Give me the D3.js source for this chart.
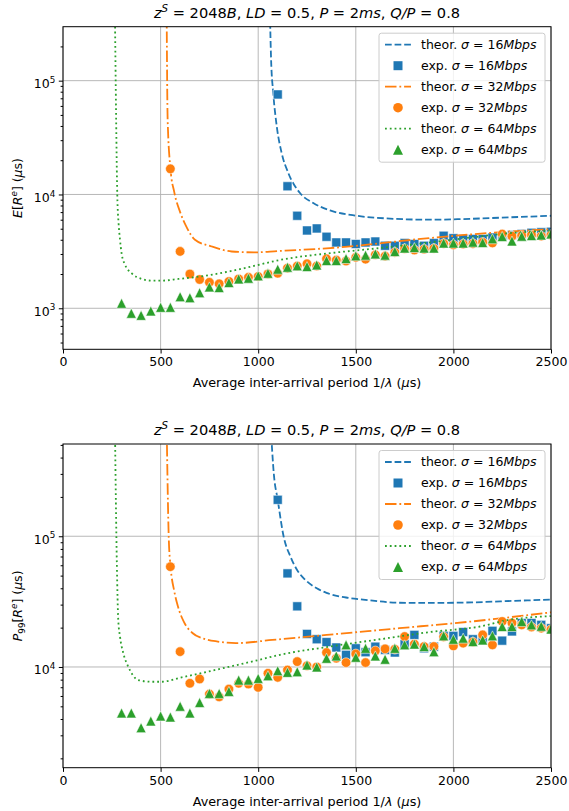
<!DOCTYPE html>
<html>
<head>
<meta charset="utf-8">
<script src="https://cdn.jsdelivr.net/npm/d3@7"></script>
<style>
	body { margin: 0; background: #fff; }
	text { font-family: "DejaVu Sans", sans-serif; fill: #000; }
</style>
</head>
<body>
<div id="chart"></div>
<script>
// inter-arrival periods of the experiments (us)
const periods = [300, 350, 400, 450, 500, 550, 600, 650, 700, 750, 800, 850, 900, 950,
	1000, 1050, 1100, 1150, 1200, 1250, 1300, 1350, 1400, 1450, 1500, 1550, 1600, 1650,
	1700, 1750, 1800, 1850, 1900, 1950, 2000, 2050, 2100, 2150, 2200, 2250, 2300, 2350,
	2400, 2450, 2500];
const xTicks = [0, 500, 1000, 1500, 2000, 2500];

// E[R^e], experiments
const exp16E = [null, null, null, null, null, null, null, null, null, null, null, null, null, null, null, null,
	75700, 11800, 6500, 4830, 5030, 4250, 3790, 3790, 3670, 3790, 3860, 3540, 3540, 3740, 3670,
	3540, 3740, 4340, 4130, 4070, 4070, 4070, 4190, 4280, 4400, 4500, 4600, 4650, 4700];
const exp32E = [null, null, null, null, null,
	16800, 3160, 2000, 1790, 1690, 1640, 1720, 1810, 1870, 1900, 2000, 2030, 2250, 2350, 2460,
	2350, 2720, 2650, 2600, 2800, 2700, 2950, 2870, 3100, 3330, 3250, 3300, 3350, 3700, 3600,
	3660, 3700, 3800, 3750, 4490, 4300, 4350, 4400, 4300, 4400];
const exp64E = [1107, 904, 867, 947, 1020, 1020, 1265, 1240, 1372, 1541, 1520, 1682, 1812, 1838,
	1927, 2031, 2207, 2295, 2360, 2325, 2404, 2624, 2624, 2735, 2890, 2930, 3006, 2930, 3155,
	3380, 3420, 3380, 3380, 3740, 3740, 3740, 3810, 3780, 4080, 4276, 3900, 4300, 4350, 4400, 4500];

// E[R^e], theory
const th16EX = [1060, 1066, 1077, 1095, 1120, 1154, 1214, 1282, 1368, 1504, 1658, 1880, 2051, 2290, 2500];
const th16E  = [400000, 154000, 78300, 39800, 23200, 15460, 10300, 8410, 7240, 6500, 6160, 6000, 6080, 6300, 6500];
const th32EX = [531, 536, 551, 570, 600, 630, 676, 762, 864, 979, 1100, 1368, 1880, 2290, 2500];
const th32E  = [400000, 46000, 16500, 10500, 7000, 5300, 4000, 3490, 3155, 3100, 3180, 3380, 4140, 4730, 4950];
const th64EX = [266, 272, 278, 285, 292, 300, 318, 352, 403, 454, 505, 591, 727, 847, 967, 1112, 1368, 1624, 1880, 2136, 2290, 2500];
const th64E  = [400000, 50000, 10000, 5500, 4000, 3050, 2410, 2030, 1810, 1750, 1750, 1810, 1930, 2100, 2330, 2660, 3050, 3380, 3790, 4280, 4580, 4800];

// P99[R^e], experiments
const exp16P = [null, null, null, null, null, null, null, null, null, null, null, null, null, null, null, null,
	190000, 52000, 29100, 17900, 16300, 15500, 14100, 12400, 13900, 12970, 14300, 13500, 12900,
	14960, 17600, 13900, 14300, 17300, 17300, 18500, 16300, 16300, 18900, 15900, 18700, 21700,
	21700, 21000, 19800];
const exp32P = [null, null, null, null, null,
	58500, 13100, 7500, 8090, 6200, 5910, 6770, 7500, 7400, 6980, 8950, 8330, 9480, 10990, 10200,
	10000, 12900, 11660, 10800, 12590, 10800, 13280, 13750, 13680, 17100, 14960, 14330, 14330,
	17000, 14500, 15220, 15500, 17600, 14770, 22300, 21700, 21000, 20200, 19800, 19300];
const exp64P = [4450, 4450, 3435, 3860, 4216, 4140, 5010, 4450, 5350, 6280, 6280, 6500, 7940, 7940,
	8180, 8570, 9370, 9100, 9200, 10360, 10000, 11660, 12150, 14770, 11870, 13900, 12150, 11460,
	13900, 14770, 14960, 14330, 13100, 17300, 16300, 16620, 15650, 16100, 17300, 20400, 20400,
	22300, 21000, 20500, 19500];

// P99[R^e], theory
const th16PX = [1064, 1080, 1100, 1130, 1165, 1200, 1240, 1300, 1350, 1450, 1537, 1723, 1909, 2095, 2300, 2500];
const th16P  = [700000, 300000, 190000, 100000, 70000, 55000, 46600, 40000, 36900, 34000, 32800, 31000, 30900, 31200, 32000, 32800];
const th32PX = [531, 542, 551, 570, 589, 620, 663, 720, 793, 886, 1072, 1351, 1723, 2095, 2500];
const th32P  = [700000, 95000, 59000, 38000, 29000, 22000, 18200, 16500, 15650, 15220, 16100, 17600, 19800, 22300, 26200];
const th64PX = [266, 276, 283, 292, 309, 335, 386, 454, 505, 608, 727, 847, 967, 1112, 1368, 1624, 1880, 2136, 2290, 2500];
const th64P  = [700000, 60000, 23000, 17100, 12740, 10000, 7940, 7710, 7710, 8330, 9100, 10000, 10990, 12400, 14330, 16300, 18500, 20400, 23000, 24500];

const C_BLUE = '#1f77b4', C_ORANGE = '#ff7f0e', C_GREEN = '#2ca02c';
const DASHED = '6.7,2.9', DASHDOT = '11.5,2.9,1.8,2.9', DOTTED = '1.8,3';

const titleParts = [['z', 'i'], ['S', 'supi'], [' = 2048', 'r'], ['B', 'i'], [', ', 'r'], ['LD', 'i'],
	[' = 0.5, ', 'r'], ['P', 'i'], [' = 2', 'r'], ['ms', 'i'], [', ', 'r'], ['Q/P', 'i'], [' = 0.8', 'r']];
const xLabelParts = [['Average inter-arrival period 1/', 'r'], ['λ', 'i'], [' (', 'r'], ['μ', 'i'], ['s)', 'r']];

function legendParts(kind, rate) {
	return [[kind + ' ', 'r'], ['σ', 'i'], [' = ' + rate, 'r'], ['Mbps', 'i']];
}

function series(th16X, th16, e16, th32X, th32, e32, th64X, th64, e64) {
	return [
		{ kind: 'line', color: C_BLUE, dash: DASHED, xs: th16X, ys: th16, label: legendParts('theor.', 16) },
		{ kind: 'square', color: C_BLUE, xs: periods, ys: e16, label: legendParts('exp.', 16) },
		{ kind: 'line', color: C_ORANGE, dash: DASHDOT, xs: th32X, ys: th32, label: legendParts('theor.', 32) },
		{ kind: 'circle', color: C_ORANGE, xs: periods, ys: e32, label: legendParts('exp.', 32) },
		{ kind: 'line', color: C_GREEN, dash: DOTTED, xs: th64X, ys: th64, label: legendParts('theor.', 64) },
		{ kind: 'triangle', color: C_GREEN, xs: periods, ys: e64, label: legendParts('exp.', 64) }
	];
}

const panels = [
	{ id: 'e', top: 26.7, height: 322.6, yDomain: [436, 298000],
		yLabel: [['E', 'i'], ['[', 'r'], ['R', 'i'], ['e', 'supi'], ['] (', 'r'], ['μ', 'i'], ['s)', 'r']],
		series: series(th16EX, th16E, exp16E, th32EX, th32E, exp32E, th64EX, th64E, exp64E) },
	{ id: 'p', top: 444, height: 323.7, yDomain: [1696, 508000],
		yLabel: [['P', 'i'], ['99', 'sub'], ['[', 'r'], ['R', 'i'], ['e', 'supi'], ['] (', 'r'], ['μ', 'i'], ['s)', 'r']],
		series: series(th16PX, th16P, exp16P, th32PX, th32P, exp32P, th64PX, th64P, exp64P) }
];

const marginLeft = 63, plotW = 488;

let svg = d3.select('#chart').append('svg')
	.attr('width', 569)
	.attr('height', 811);

function mathText(sel, parts, size) {
	let shift = 0;
	parts.forEach(([s, k]) => {
		let t = sel.append('tspan').text(s);
		let target = 0;
		if (k === 'i' || k === 'supi') t.attr('font-style', 'italic');
		if (k === 'sup' || k === 'supi') { t.attr('font-size', size * 0.7); target = -size * 0.42; }
		if (k === 'sub') { t.attr('font-size', size * 0.7); target = size * 0.22; }
		if (target !== shift) { t.attr('dy', target - shift); shift = target; }
	});
}

function markerPath(kind) {
	if (kind === 'square') return 'M-4.5,-4.5H4.5V4.5H-4.5Z';
	if (kind === 'circle') return d3.symbol(d3.symbolCircle, Math.PI * 4.8 * 4.8)();
	return 'M0,-5L5,5L-5,5Z';
}

function drawPanel(p) {
	let g = svg.append('g')
		.attr('transform', 'translate(' + marginLeft + ',' + p.top + ')');

	let x = d3.scaleLinear().domain([0, 2500]).range([0, plotW]);
	let y = d3.scaleLog().domain(p.yDomain).range([p.height, 0]);

	let decades = y.ticks().filter((d) => Math.abs(Math.log10(d) - Math.round(Math.log10(d))) < 1e-9);
	let minors = y.ticks().filter((d) => decades.indexOf(d) < 0);

	g.append('clipPath').attr('id', 'clip-' + p.id)
		.append('rect').attr('width', plotW).attr('height', p.height);

	// grid
	let grid = g.append('g').attr('stroke', '#b0b0b0').attr('stroke-width', 0.9);
	grid.selectAll('.gx').data(xTicks).enter().append('line')
		.attr('x1', (d) => x(d)).attr('x2', (d) => x(d))
		.attr('y1', 0).attr('y2', p.height);
	grid.selectAll('.gy').data(decades).enter().append('line')
		.attr('x1', 0).attr('x2', plotW)
		.attr('y1', (d) => y(d)).attr('y2', (d) => y(d));

	// data
	let plot = g.append('g').attr('clip-path', 'url(#clip-' + p.id + ')');
	let line = d3.line()
		.x((d) => x(d[0]))
		.y((d) => y(d[1]))
		.curve(d3.curveMonotoneX);

	p.series.forEach((s) => {
		if (s.kind === 'line') {
			plot.append('path')
				.datum(d3.zip(s.xs, s.ys))
				.attr('d', line)
				.attr('fill', 'none')
				.attr('stroke', s.color)
				.attr('stroke-width', 1.8)
				.attr('stroke-dasharray', s.dash);
		} else {
			let pts = d3.zip(s.xs, s.ys).filter((d) => d[1] != null);
			plot.append('g').selectAll('path').data(pts).enter().append('path')
				.attr('d', markerPath(s.kind))
				.attr('transform', (d) => 'translate(' + x(d[0]) + ',' + y(d[1]) + ')')
				.attr('fill', s.color)
				.attr('stroke', '#ffffff')
				.attr('stroke-opacity', 0.55)
				.attr('stroke-width', 1);
		}
	});

	// axes
	let ax = g.append('g')
		.attr('transform', 'translate(0,' + p.height + ')')
		.call(d3.axisBottom(x).tickValues(xTicks).tickFormat(d3.format('d')).tickSize(4.2).tickPadding(4));
	ax.select('.domain').remove();
	ax.selectAll('text').attr('font-size', 12.5).attr('font-family', '"DejaVu Sans", sans-serif');

	let ayMinor = g.append('g').call(d3.axisLeft(y).tickValues(minors).tickSize(2.4).tickFormat(''));
	ayMinor.select('.domain').remove();

	let ay = g.append('g').call(d3.axisLeft(y).tickValues(decades).tickSize(4.2).tickPadding(3.5).tickFormat(''));
	ay.select('.domain').remove();
	ay.selectAll('.tick text').each(function (d) {
		let t = d3.select(this).attr('font-size', 12.5).attr('dy', '0.55em')
			.attr('font-family', '"DejaVu Sans", sans-serif');
		mathText(t, [['10', 'r'], [String(Math.round(Math.log10(d))), 'sup']], 12.5);
	});

	g.append('rect')
		.attr('width', plotW).attr('height', p.height)
		.attr('fill', 'none').attr('stroke', '#000').attr('stroke-width', 1);

	// labels
	let title = g.append('text')
		.attr('x', plotW / 2).attr('y', -9)
		.attr('text-anchor', 'middle').attr('font-size', 14.6);
	mathText(title, titleParts, 14.6);

	let xl = g.append('text')
		.attr('x', plotW / 2).attr('y', p.height + 38)
		.attr('text-anchor', 'middle').attr('font-size', 12.8);
	mathText(xl, xLabelParts, 12.8);

	let yl = g.append('text')
		.attr('transform', 'translate(' + (-41) + ',' + (p.height / 2) + ') rotate(-90)')
		.attr('text-anchor', 'middle').attr('font-size', 12.5);
	mathText(yl, p.yLabel, 12.5);

	// legend
	let lg = g.append('g').attr('transform', 'translate(316,6.5)');
	lg.append('rect')
		.attr('width', 166).attr('height', 129).attr('rx', 2.5)
		.attr('fill', '#fff').attr('fill-opacity', 0.8)
		.attr('stroke', '#cccccc').attr('stroke-width', 1);

	p.series.forEach((s, i) => {
		let cy = 11.5 + i * 21;
		if (s.kind === 'line') {
			lg.append('line')
				.attr('x1', 6).attr('x2', 32).attr('y1', cy).attr('y2', cy)
				.attr('stroke', s.color).attr('stroke-width', 1.8)
				.attr('stroke-dasharray', s.dash);
		} else {
			lg.append('path')
				.attr('d', markerPath(s.kind))
				.attr('transform', 'translate(19,' + cy + ')')
				.attr('fill', s.color);
		}
		let t = lg.append('text')
			.attr('x', 42).attr('y', cy + 4.3)
			.attr('font-size', 12.5);
		mathText(t, s.label, 12.5);
	});
}

panels.forEach(drawPanel);
</script>
</body>
</html>
